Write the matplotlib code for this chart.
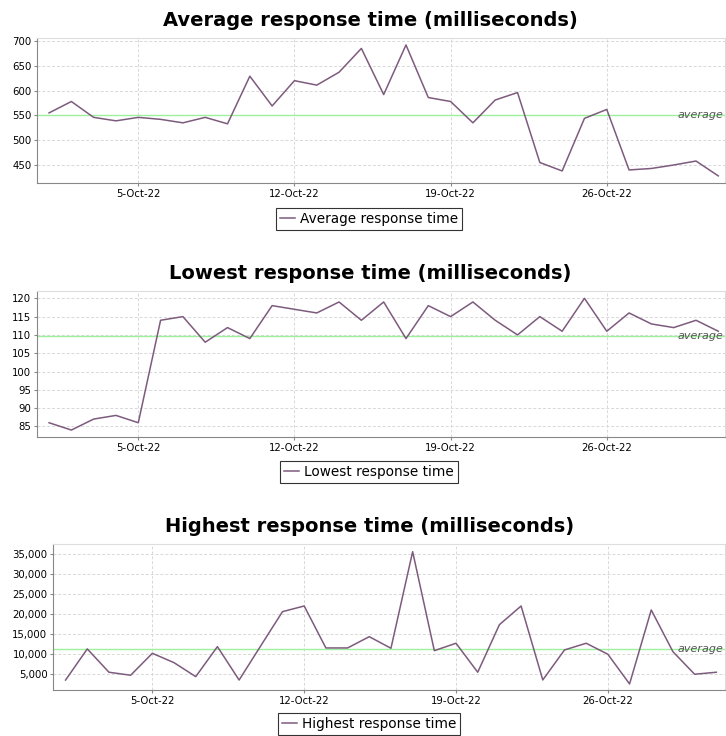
import numpy as np
import pandas as pd
import matplotlib
matplotlib.use("Agg")
import matplotlib.pyplot as plt
import matplotlib.dates as mdates
from matplotlib.ticker import FuncFormatter

# ----------------------------
# Data (one value per day, 1-31 Oct 2022)
# ----------------------------
days = pd.date_range("2022-10-01", "2022-10-31", freq="D")

avg_ms = [555, 578, 546, 539, 546, 542, 535, 546, 533, 629,
          569, 620, 611, 637, 685, 592, 692, 586, 578, 535,
          581, 596, 455, 438, 544, 562, 440, 443, 450, 458, 428]

low_ms = [86, 84, 87, 88, 86, 114, 115, 108, 112, 109,
          118, 117, 116, 119, 114, 119, 109, 118, 115, 119,
          114, 110, 115, 111, 120, 111, 116, 113, 112, 114, 111]

high_ms = [3400, 11200, 5350, 4600, 10100, 7750, 4250, 11770, 3400, 12000,
           20540, 21960, 11440, 11440, 14270, 11360, 35570, 10760, 12620, 5350,
           17280, 21960, 3420, 10940, 12620, 9860, 2420, 20960, 10500, 4850, 5350]

titles = ["Average response time (milliseconds)",
          "Lowest response time (milliseconds)",
          "Highest response time (milliseconds)"]
series_names = ["Average response time", "Lowest response time", "Highest response time"]
tick_days = [5, 12, 19, 26]

# ----------------------------
# Layout (pixels) and style
# ----------------------------
W, H = 726, 736
LINE_COLOR = "#7d5b7d"
AVG_COLOR = "#9df09d"

panels = [
    dict(data=avg_ms, left=37, top=38, bottom=183, ylim=(413.7, 706),
         yticks=[450, 500, 550, 600, 650, 700], pad=(0.54, 0.3), title_y=20, leg_y=219),
    dict(data=low_ms, left=37, top=291, bottom=437, ylim=(82.1, 122),
         yticks=list(range(85, 121, 5)), pad=(0.54, 0.3), title_y=274, leg_y=472),
    dict(data=high_ms, left=53, top=544, bottom=690, ylim=(900, 37500),
         yticks=list(range(5000, 35001, 5000)), pad=(0.58, 0.4), title_y=527, leg_y=724),
]

fig = plt.figure(figsize=(W / 100, H / 100), dpi=100)
fig.patch.set_facecolor("white")

for i, p in enumerate(panels):
    right = 725
    ax = fig.add_axes([p["left"] / W, 1 - p["bottom"] / H,
                       (right - p["left"]) / W, (p["bottom"] - p["top"]) / H])
    values = np.array(p["data"])
    ax.plot(days, values, color=LINE_COLOR, linewidth=1.1, label=series_names[i], zorder=3)

    # horizontal marker at the series mean
    mean_val = values.mean()
    ax.axhline(mean_val, color=AVG_COLOR, linewidth=1.0, zorder=2)
    ax.text(0.997, mean_val, "average", transform=ax.get_yaxis_transform(),
            ha="right", va="center", fontsize=8, style="italic", color="#555555",
            zorder=4)

    ax.set_xlim(days[0] - pd.Timedelta(days=p["pad"][0]),
                days[-1] + pd.Timedelta(days=p["pad"][1]))
    ax.set_ylim(*p["ylim"])
    ax.set_yticks(p["yticks"])
    ax.xaxis.set_major_locator(mdates.DayLocator(bymonthday=tick_days))
    ax.xaxis.set_major_formatter(FuncFormatter(
        lambda x, pos: mdates.num2date(x).strftime("%d-%b-%y").lstrip("0")))
    if i == 2:
        ax.yaxis.set_major_formatter(FuncFormatter(lambda v, pos: f"{int(v):,}"))

    ax.grid(True, color="#d8d8d8", linestyle=(0, (3, 2)), linewidth=0.7)
    ax.set_axisbelow(True)
    for side in ["top", "right"]:
        ax.spines[side].set_color("#dddddd")
    for side in ["left", "bottom"]:
        ax.spines[side].set_color("#888888")
    ax.tick_params(labelsize=7.3, length=2, color="#888888", pad=2)

    fig.text(370 / W, 1 - p["title_y"] / H, titles[i], ha="center", va="center",
             fontsize=14, fontweight="bold")

    leg = ax.legend(loc="center", bbox_to_anchor=(369 / W, 1 - p["leg_y"] / H),
                    bbox_transform=fig.transFigure, frameon=True, fancybox=False,
                    fontsize=9.8, handlelength=1.1, handletextpad=0.4,
                    borderpad=0.3, borderaxespad=0)
    leg.get_frame().set_edgecolor("black")
    leg.get_frame().set_linewidth(0.8)

fig.savefig("out.png", dpi=100, facecolor="white")
